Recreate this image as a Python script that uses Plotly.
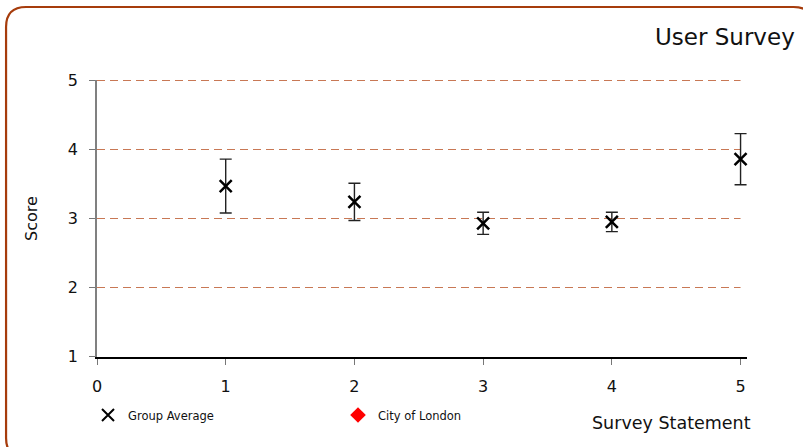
import plotly.graph_objects as go

# ---- data ----
statements = [1, 2, 3, 4, 5]
group_average = [3.47, 3.24, 2.93, 2.95, 3.86]
group_error = [0.39, 0.27, 0.16, 0.14, 0.37]
city_of_london = [None, None, None, None, None]

x_ticks = [0, 1, 2, 3, 4, 5]
y_ticks = [1, 2, 3, 4, 5]

title_text = "User Survey"
x_title = "Survey Statement"
y_title = "Score"

# ---- layout geometry ----
W, H = 803, 447
ML, MT, MB = 97, 80, 90
X_MAX = 5
X_EXTRA = 0.05  # room so the last error-bar cap is not clipped
PW = 644 * (X_MAX + X_EXTRA) / X_MAX
MR = W - ML - PW
PH = H - MT - MB
UNIT = 69
YPAD = 0.5 / UNIT


def px(xp):
    return (xp - ML) / PW


def py(yp):
    return (H - MB - yp) / PH


FONT = "DejaVu Sans"
GRID = "rgb(200,120,85)"

fig = go.Figure()
fig.add_trace(go.Scatter(
    x=statements, y=group_average, mode="markers", name="Group Average",
    cliponaxis=False,
    marker=dict(symbol="x-thin", size=12, color="black",
                line=dict(width=2.5, color="black")),
    error_y=dict(type="data", array=group_error, visible=True,
                 color="#222222", thickness=1.4, width=6),
))
fig.add_trace(go.Scatter(
    x=statements, y=city_of_london, mode="markers", name="City of London",
    marker=dict(symbol="diamond", size=10, color="red"),
))

# dashed horizontal gridlines at the y tick values
for v in y_ticks[1:]:
    fig.add_shape(type="line", xref="x", yref="y", x0=x_ticks[0], x1=x_ticks[-1],
                  y0=v, y1=v, line=dict(color=GRID, width=1, dash="8px,5px"),
                  layer="below")

# rounded border
r = 20
x0, x1 = px(6), px(814)
y0, y1 = py(7), py(458)
rx, ry = r / PW, r / PH
path = (f"M {x0+rx},{y0} L {x1-rx},{y0} Q {x1},{y0} {x1},{y0-ry} "
        f"L {x1},{y1+ry} Q {x1},{y1} {x1-rx},{y1} "
        f"L {x0+rx},{y1} Q {x0},{y1} {x0},{y1+ry} "
        f"L {x0},{y0-ry} Q {x0},{y0} {x0+rx},{y0} Z")
fig.add_shape(type="path", xref="paper", yref="paper", path=path,
              line=dict(color="#a63c0c", width=2.2), layer="below")

fig.add_annotation(text=title_text, xref="paper", yref="paper",
                   x=px(797), y=py(37), xanchor="right", yanchor="middle",
                   showarrow=False, font=dict(family=FONT, size=23, color="#111"))
fig.add_annotation(text=x_title, xref="paper", yref="paper",
                   x=px(753), y=py(423), xanchor="right", yanchor="middle",
                   showarrow=False, font=dict(family=FONT, size=17.5, color="#111"))

fig.update_layout(
    width=W, height=H,
    margin=dict(l=ML, r=MR, t=MT, b=MB, pad=0),
    paper_bgcolor="white", plot_bgcolor="white",
    font=dict(family=FONT, size=16, color="#111"),
    showlegend=True,
    legend=dict(orientation="h", x=px(88), y=py(415), xanchor="left", yanchor="middle",
                font=dict(family=FONT, size=11.5, color="#111"),
                itemwidth=30, itemsizing="constant",
                entrywidth=205, entrywidthmode="pixels",
                bgcolor="rgba(0,0,0,0)"),
    xaxis=dict(range=[0, X_MAX + X_EXTRA], tickvals=x_ticks, showgrid=False,
               zeroline=False, showline=True, linecolor="black", linewidth=1.5,
               ticks="outside", ticklen=6, tickcolor="#777", tickwidth=1,
               ticklabelstandoff=8, tickfont=dict(size=16)),
    yaxis=dict(range=[y_ticks[0] - YPAD, y_ticks[-1] + YPAD], tickvals=y_ticks,
               showgrid=False, zeroline=False, showline=True,
               linecolor="#808080", linewidth=1.6,
               ticks="outside", ticklen=6, tickcolor="#777", tickwidth=1,
               ticklabelstandoff=8, tickfont=dict(size=16),
               title=dict(text=y_title, standoff=26, font=dict(size=16))),
)

fig.write_html("out.html", config={"displayModeBar": False},
               post_script="document.body.style.margin='0';document.body.style.overflow='hidden';")
